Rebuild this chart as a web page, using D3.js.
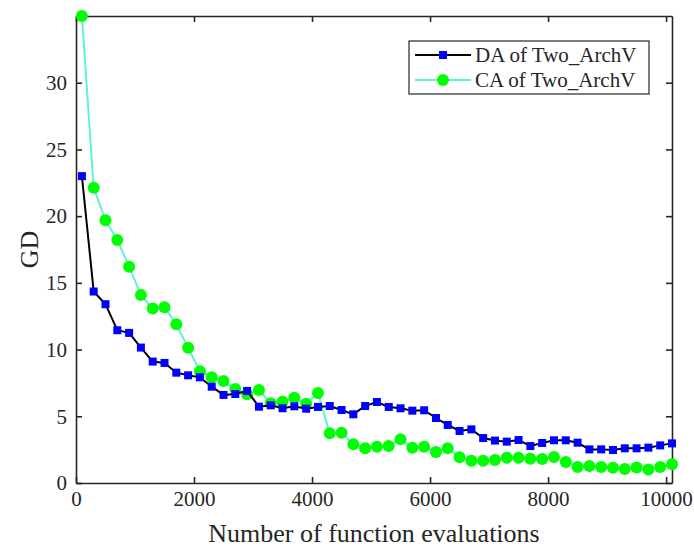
<!DOCTYPE html>
<html>
<head>
<meta charset="utf-8">
<script src="https://d3js.org/d3.v7.min.js"></script>
<style>
  body { margin: 0; background: #fff; }
  svg text { font-family: "Liberation Serif", "Times New Roman", serif; fill: #262626; }
</style>
</head>
<body>
<svg id="chart" width="694" height="547"></svg>
<script>
// evaluations (x) for both series
var evals = d3.range(100, 10101, 200);
// DA of Two_ArchV
var daValues = [23.0, 14.35, 13.4, 11.45, 11.25, 10.15, 9.1, 9.0, 8.27, 8.07,
  7.92, 7.22, 6.6, 6.67, 6.9, 5.72, 5.82, 5.6, 5.75, 5.57,
  5.7, 5.77, 5.47, 5.15, 5.77, 6.07, 5.7, 5.6, 5.42, 5.45,
  4.87, 4.35, 3.9, 4.02, 3.37, 3.18, 3.1, 3.22, 2.77, 3.0,
  3.2, 3.2, 3.02, 2.52, 2.52, 2.47, 2.6, 2.6, 2.65, 2.82, 2.97];
// CA of Two_ArchV
var caValues = [35.0, 22.12, 19.69, 18.21, 16.21, 14.09, 13.07, 13.17, 11.89, 10.14,
  8.38, 7.92, 7.64, 7.04, 6.65, 6.97, 5.97, 6.09, 6.39, 5.94,
  6.75, 3.72, 3.77, 2.9, 2.6, 2.72, 2.77, 3.27, 2.65, 2.72,
  2.32, 2.6, 1.93, 1.67, 1.67, 1.72, 1.9, 1.9, 1.82, 1.8,
  1.95, 1.57, 1.2, 1.27, 1.2, 1.15, 1.05, 1.17, 1.02, 1.2, 1.4];
var xTicks = [0, 2000, 4000, 6000, 8000, 10000];
var yTicks = [0, 5, 10, 15, 20, 25, 30];
var seriesNames = ["DA of Two_ArchV", "CA of Two_ArchV"];

var plotLeft = 76, plotRight = 672, plotTop = 16, plotBottom = 483;
var svg = d3.select("#chart");
var x = d3.scaleLinear().domain([0, 10100]).range([plotLeft, plotRight]);
var y = d3.scaleLinear().domain([0, 35]).range([plotBottom, plotTop]);
var axisColor = "#262626";
var caLine = "#62f0da";

// axes with inward ticks, box on all sides
function styleAxis(g) {
  g.selectAll("path").attr("stroke", axisColor).attr("stroke-width", 1.6);
  g.selectAll("line").attr("stroke", axisColor).attr("stroke-width", 1.6);
  g.selectAll("text").style("font-size", "21px").attr("fill", axisColor);
}
svg.append("g").attr("transform", "translate(0," + plotBottom + ")")
  .call(d3.axisBottom(x).tickValues(xTicks).tickSizeInner(-6).tickSizeOuter(0).tickPadding(8).tickFormat(d3.format("d")))
  .call(styleAxis);
svg.append("g").attr("transform", "translate(0," + plotTop + ")")
  .call(d3.axisTop(x).tickValues(xTicks).tickSizeInner(-6).tickSizeOuter(0).tickFormat(""))
  .call(styleAxis);
svg.append("g").attr("transform", "translate(" + plotLeft + ",0)")
  .call(d3.axisLeft(y).tickValues(yTicks).tickSizeInner(-6).tickSizeOuter(0).tickPadding(9))
  .call(styleAxis);
svg.append("g").attr("transform", "translate(" + plotRight + ",0)")
  .call(d3.axisRight(y).tickValues(yTicks).tickSizeInner(-6).tickSizeOuter(0).tickFormat(""))
  .call(styleAxis);

// axis titles
svg.append("text").attr("x", (plotLeft + plotRight) / 2).attr("y", 542)
  .attr("text-anchor", "middle").style("font-size", "26px").text("Number of function evaluations");
svg.append("text").attr("transform", "translate(38," + ((plotTop + plotBottom) / 2) + ") rotate(-90)")
  .attr("text-anchor", "middle").style("font-size", "26px").text("GD");

var line = d3.line().x(function(d, i) { return x(evals[i]); }).y(function(d) { return y(d); });

// CA series
svg.append("path").datum(caValues).attr("d", line)
  .attr("fill", "none").attr("stroke", caLine).attr("stroke-width", 2);
svg.append("g").selectAll("circle").data(caValues).enter().append("circle")
  .attr("cx", function(d, i) { return x(evals[i]); })
  .attr("cy", function(d) { return y(d); })
  .attr("r", 6).attr("fill", "#00ff00");

// DA series
svg.append("path").datum(daValues).attr("d", line)
  .attr("fill", "none").attr("stroke", "#000").attr("stroke-width", 2);
svg.append("g").selectAll("rect").data(daValues).enter().append("rect")
  .attr("x", function(d, i) { return x(evals[i]) - 4; })
  .attr("y", function(d) { return y(d) - 4; })
  .attr("width", 8).attr("height", 8).attr("fill", "#0000ff");

// legend
var lg = svg.append("g");
lg.append("rect").attr("x", 409).attr("y", 41).attr("width", 240).attr("height", 53)
  .attr("fill", "#fff").attr("stroke", axisColor).attr("stroke-width", 1.2);
var rows = [
  { name: seriesNames[0], stroke: "#000", y: 55 },
  { name: seriesNames[1], stroke: caLine, y: 80 }
];
rows.forEach(function(r, i) {
  lg.append("line").attr("x1", 415).attr("x2", 471).attr("y1", r.y).attr("y2", r.y)
    .attr("stroke", r.stroke).attr("stroke-width", 2);
  if (i === 0) {
    lg.append("rect").attr("x", 439).attr("y", r.y - 4).attr("width", 8).attr("height", 8).attr("fill", "#0000ff");
  } else {
    lg.append("circle").attr("cx", 443).attr("cy", r.y).attr("r", 6).attr("fill", "#00ff00");
  }
  lg.append("text").attr("x", 475).attr("y", r.y + 7).style("font-size", "21px").attr("fill", "#000").text(r.name);
});
</script>
</body>
</html>
